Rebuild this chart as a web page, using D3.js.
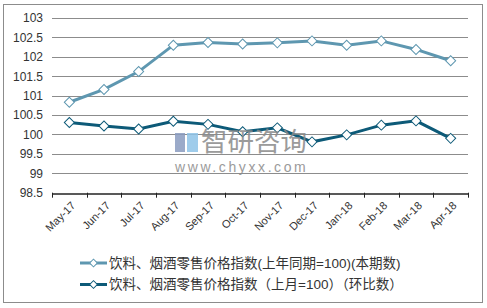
<!DOCTYPE html>
<html>
<head>
<meta charset="utf-8">
<script src="https://cdn.jsdelivr.net/npm/d3@7"></script>
<style>
  body { margin: 0; background: #fff; }
  svg { display: block; font-family: "Liberation Sans", Arial, "Noto Sans CJK SC", sans-serif; }
</style>
</head>
<body>
<div id="chart"></div>
<script>
const months = ["May-17", "Jun-17", "Jul-17", "Aug-17", "Sep-17", "Oct-17", "Nov-17", "Dec-17", "Jan-18", "Feb-18", "Mar-18", "Apr-18"];
const yoyValues = [100.83, 101.16, 101.62, 102.3, 102.37, 102.33, 102.36, 102.41, 102.3, 102.41, 102.19, 101.9];
const momValues = [100.31, 100.22, 100.14, 100.34, 100.26, 100.07, 100.17, 99.81, 99.99, 100.24, 100.35, 99.9];
const yTicks = [98.5, 99, 99.5, 100, 100.5, 101, 101.5, 102, 102.5, 103];
const seriesNames = ["饮料、烟酒零售价格指数(上年同期=100)(本期数)", "饮料、烟酒零售价格指数（上月=100）（环比数）"];
const seriesColors = ["#5e97b0", "#0d5a78"];

const W = 487, H = 308;
const margin = { top: 18, right: 19, bottom: 115, left: 52 };
const width = W - margin.left - margin.right,
      height = 192.7 - margin.top;

const svg = d3.select("#chart").append("svg")
    .attr("width", W)
    .attr("height", H);

// outer frame
svg.append("rect")
    .attr("x", 3.5).attr("y", 4.5)
    .attr("width", 479).attr("height", 298)
    .attr("fill", "none")
    .attr("stroke", "#8c8c8c");

const g = svg.append("g")
    .attr("transform", `translate(${margin.left},${margin.top})`);

const x = d3.scaleBand().domain(months).range([0, width]);
const y = d3.scaleLinear().domain([98.5, 103]).range([height, 0]);

// gridlines
g.append("g")
    .selectAll("line")
    .data(yTicks.slice(1))
    .join("line")
    .attr("x1", 0).attr("x2", width)
    .attr("y1", d => Math.round(y(d)) + 0.5)
    .attr("y2", d => Math.round(y(d)) + 0.5)
    .attr("stroke", "#8c8c8c");

// y labels
const yAxis = g.append("g")
    .call(d3.axisLeft(y).tickValues(yTicks).tickSize(0).tickPadding(9).tickFormat(d => d));
yAxis.select(".domain").remove();
yAxis.selectAll("text").attr("font-size", 12).attr("fill", "#333");

// x axis
const xAxis = g.append("g")
    .attr("transform", `translate(0,${Math.round(height) + 0.5})`)
    .call(d3.axisBottom(x).tickSize(0));
xAxis.select(".domain").attr("stroke", "#222").attr("stroke-width", 1.5);
xAxis.selectAll("text")
    .attr("font-size", 11)
    .attr("fill", "#333")
    .attr("text-anchor", "end")
    .attr("transform", "translate(4,10) rotate(-45)")
    .attr("dy", "0.35em")
    .attr("y", 0);
// ticks at band boundaries
g.append("g")
    .selectAll("line")
    .data(d3.range(months.length + 1))
    .join("line")
    .attr("x1", i => Math.round(i * x.step()) + 0.5)
    .attr("x2", i => Math.round(i * x.step()) + 0.5)
    .attr("y1", height)
    .attr("y2", height + 5)
    .attr("stroke", "#222");

// watermark
const wm = svg.append("g").attr("opacity", 0.85);
wm.append("rect").attr("x", 175).attr("y", 133).attr("width", 10).attr("height", 19).attr("fill", "#8a9cc0");
wm.append("rect").attr("x", 187).attr("y", 133).attr("width", 11).attr("height", 19).attr("fill", "#8fc4e8");
wm.append("text").attr("x", 201).attr("y", 151)
    .attr("font-size", 26.5).attr("fill", "#8a8a8a")
    .attr("font-family", "Noto Sans CJK SC")
    .text("智研咨询");
wm.append("text").attr("x", 175).attr("y", 172)
    .attr("font-size", 14).attr("fill", "#8a8a8a")
    .attr("letter-spacing", 2.6)
    .text("www.chyxx.com");

// lines
const line = d3.line()
    .x((d, i) => x(months[i]) + x.bandwidth() / 2)
    .y(d => y(d));

[yoyValues, momValues].forEach((vals, k) => {
    g.append("path")
        .datum(vals)
        .attr("fill", "none")
        .attr("stroke", seriesColors[k])
        .attr("stroke-width", 3)
        .attr("d", line);
    g.append("g")
        .selectAll("path")
        .data(vals)
        .join("path")
        .attr("transform", (d, i) => `translate(${x(months[i]) + x.bandwidth() / 2},${y(d)}) rotate(45)`)
        .attr("d", d3.symbol().type(d3.symbolSquare).size(50))
        .attr("fill", "#fff")
        .attr("stroke", seriesColors[k])
        .attr("stroke-width", 1);
});

// legend
const legend = svg.append("g");
seriesNames.forEach((name, k) => {
    const ly = 263 + k * 21.5;
    legend.append("line")
        .attr("x1", 80).attr("x2", 107)
        .attr("y1", ly).attr("y2", ly)
        .attr("stroke", seriesColors[k])
        .attr("stroke-width", 3);
    legend.append("path")
        .attr("transform", `translate(93.5,${ly}) rotate(45)`)
        .attr("d", d3.symbol().type(d3.symbolSquare).size(30))
        .attr("fill", "#fff")
        .attr("stroke", seriesColors[k]);
    legend.append("text")
        .attr("x", 109).attr("y", ly)
        .attr("dy", "0.35em")
        .attr("font-size", 13.5)
        .attr("fill", "#333")
        .text(name);
});
</script>
</body>
</html>
